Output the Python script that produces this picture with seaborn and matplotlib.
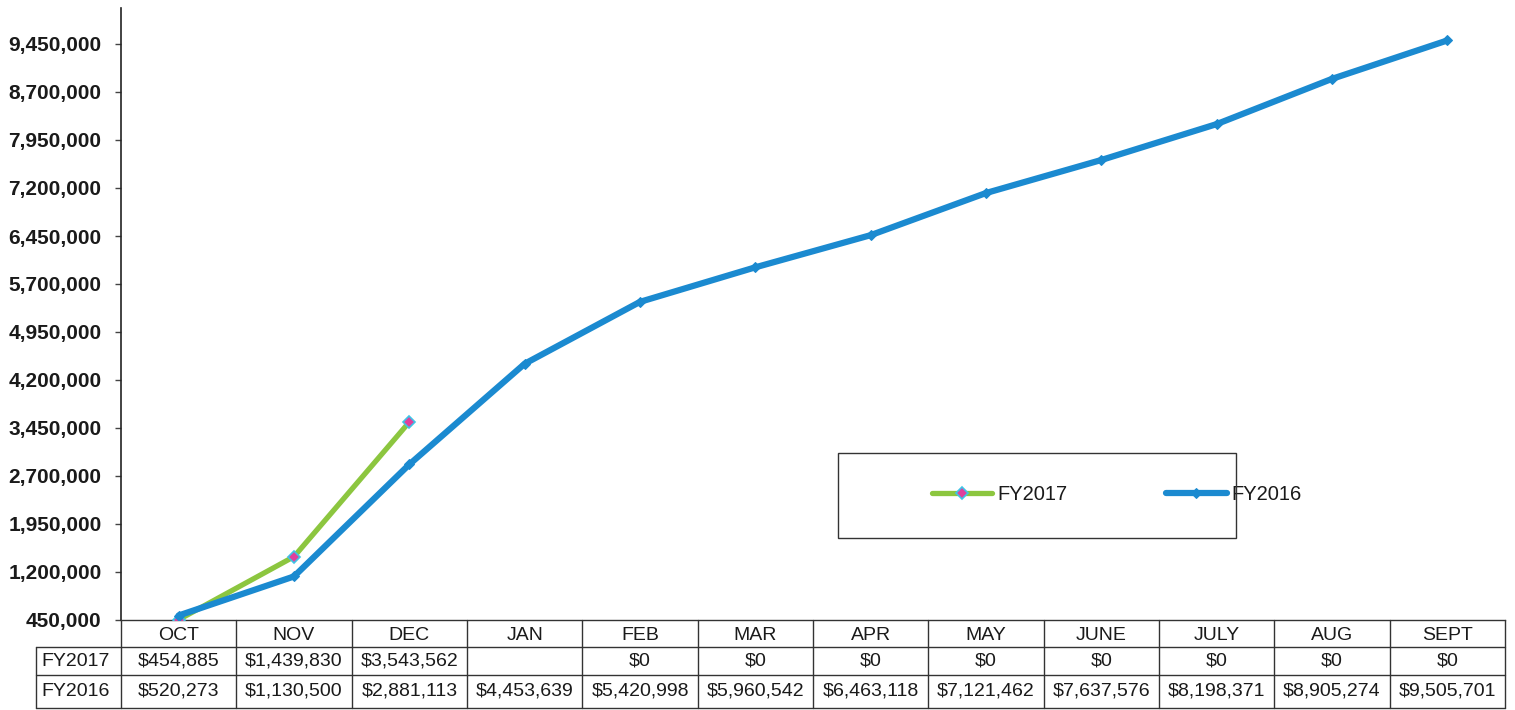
import numpy as np
import pandas as pd
import seaborn as sns
import matplotlib.pyplot as plt
from matplotlib.patches import Rectangle
from matplotlib.ticker import FuncFormatter, FixedLocator
import matplotlib.transforms as mtransforms

# Cumulative totals by fiscal month
months = ["OCT", "NOV", "DEC", "JAN", "FEB", "MAR", "APR", "MAY", "JUNE", "JULY", "AUG", "SEPT"]
fy2016 = [520273, 1130500, 2881113, 4453639, 5420998, 5960542, 6463118,
          7121462, 7637576, 8198371, 8905274, 9505701]
fy2017 = [454885, 1439830, 3543562]
fy2017_table = ["$454,885", "$1,439,830", "$3,543,562", "", "$0", "$0", "$0",
                "$0", "$0", "$0", "$0", "$0"]
series_names = ["FY2017", "FY2016"]
y_min, y_step, y_last_tick = 450000, 750000, 9450000

sns.set_style("white")
plt.rcParams["font.family"] = ["Liberation Sans", "DejaVu Sans"]

pos = np.arange(len(months))
df16 = pd.DataFrame({"pos": pos, "value": fy2016, "series": "FY2016"})
df17 = pd.DataFrame({"pos": pos[:len(fy2017)], "value": fy2017, "series": "FY2017"})

W, H = 1515, 710
fig = plt.figure(figsize=(W / 100, H / 100), dpi=100)
ax = fig.add_axes([121 / W, 90 / H, 1384 / W, 612 / H])

blue = "#1b8ad0"
green = "#8cc63f"

sns.lineplot(data=df17, x="pos", y="value", ax=ax, color=green, lw=3.8,
             marker="D", markersize=6, markerfacecolor="#e0409c",
             markeredgecolor="#3fc3e6", markeredgewidth=1.2, label="FY2017", zorder=3)
sns.lineplot(data=df16, x="pos", y="value", ax=ax, color=blue, lw=4.5,
             marker="D", markersize=5, markerfacecolor=blue,
             markeredgecolor=blue, label="FY2016", zorder=4)

ax.set_xlim(-0.5, len(months) - 0.5)
ax.set_ylim(y_min, y_min + y_step * 612 / 48)
ax.yaxis.set_major_locator(FixedLocator(np.arange(y_min, y_last_tick + 1, y_step)))
ax.yaxis.set_major_formatter(FuncFormatter(lambda v, p: f"{v:,.0f}"))
ax.set_xticks([])
ax.set_xlabel("")
ax.set_ylabel("")
ax.tick_params(axis="y", which="major", left=True, length=4, width=1, color="#444444",
               pad=10, labelsize=15, labelcolor="#1a1a1a")
for lbl in ax.get_yticklabels():
    lbl.set_fontweight("bold")
for s in ["top", "right"]:
    ax.spines[s].set_visible(False)
ax.spines["left"].set_color("#222222")
ax.spines["left"].set_linewidth(1.2)
ax.spines["bottom"].set_color("#333333")
ax.spines["bottom"].set_linewidth(1.0)

# Data table under the plot
tr = mtransforms.blended_transform_factory(ax.transData, ax.transAxes)
ph = 612.0
y_rows = [0.0, -27 / ph, -55 / ph, -88 / ph]
x_left = -0.5 - 85 / 115.33
x_right = len(months) - 0.5
lc = "#333333"
for y in y_rows[1:]:
    ax.plot([x_left, x_right], [y, y], transform=tr, color=lc, lw=1.0, clip_on=False)
for k in range(len(months) + 1):
    ax.plot([k - 0.5, k - 0.5], [y_rows[0], y_rows[-1]], transform=tr, color=lc,
            lw=1.0, clip_on=False)
ax.plot([x_left, x_left], [y_rows[1], y_rows[-1]], transform=tr, color=lc, lw=1.0,
        clip_on=False)

tc = "#1a1a1a"
fs = 14
for i, m in enumerate(months):
    ax.text(i, (y_rows[0] + y_rows[1]) / 2 - 0.003, m, transform=tr, ha="center",
            va="center", fontsize=fs, color=tc)
    ax.text(i, (y_rows[1] + y_rows[2]) / 2, fy2017_table[i], transform=tr,
            ha="center", va="center", fontsize=fs, color=tc)
    ax.text(i, (y_rows[2] + y_rows[3]) / 2, f"${fy2016[i]:,}", transform=tr,
            ha="center", va="center", fontsize=fs, color=tc)
for r, name in enumerate(series_names):
    ax.text(x_left + 0.05, (y_rows[r + 1] + y_rows[r + 2]) / 2, name, transform=tr,
            ha="left", va="center", fontsize=fs, color=tc)

# Legend in a framed box
handles, labels = ax.get_legend_handles_labels()
leg = ax.legend(handles, labels, loc="center left", ncol=2, frameon=False,
                bbox_to_anchor=(932 / W, (H - 495) / H), bbox_transform=fig.transFigure,
                fontsize=14.5, handlelength=3.0, handletextpad=0.25, columnspacing=4.9,
                borderaxespad=0, borderpad=0)
for t in leg.get_texts():
    t.set_color(tc)
fig.patches.append(Rectangle((838 / W, (H - 538) / H), 398 / W, 85 / H,
                             transform=fig.transFigure, fill=False,
                             edgecolor="#333333", lw=1.0))

fig.savefig("out.png", dpi=100, facecolor="white")
